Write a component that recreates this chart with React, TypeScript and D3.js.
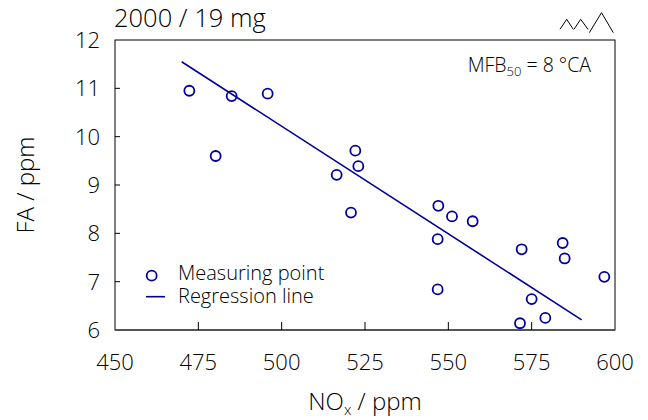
import React from "react";
import * as d3 from "d3";

const noxValues = [472.3, 480.2, 485.0, 495.8, 516.5, 520.8, 522.1, 523.0, 547.0, 551.1, 557.3, 546.8, 546.8, 572.0, 575.0, 571.5, 579.1, 584.3, 584.9, 596.8];
const faValues = [10.95, 9.6, 10.84, 10.89, 9.21, 8.43, 9.71, 9.39, 8.57, 8.35, 8.25, 7.88, 6.84, 7.67, 6.64, 6.14, 6.25, 7.8, 7.48, 7.1];
const regressionX = [470, 590];
const regressionY = [11.55, 6.21];
const xTicks = [450, 475, 500, 525, 550, 575, 600];
const yTicks = [6, 7, 8, 9, 10, 11, 12];
const legendLabels = ["Measuring point", "Regression line"];

const W = 648, H = 420;
const L = 115, R = 615, T = 40, B = 330;
const BLUE = "#00009C";
const FONT = "'Open Sans', 'DejaVu Sans', sans-serif";
const FW = 350;

export default function App() {
  const x = d3.scaleLinear().domain([450, 600]).range([L, R]);
  const y = d3.scaleLinear().domain([6, 12]).range([B, T]);
  const line = d3.line<number>().x((d, i) => x(regressionX[i])).y((d, i) => y(regressionY[i]));
  const icon = d3.line<[number, number]>();
  return (
    <svg width={W} height={H} style={{ position: "absolute", left: 0, top: 0, background: "#fff" }} fontFamily={FONT}>
      <rect x={0} y={0} width={W} height={H} fill="#fff" />
      {/* frame */}
      <rect x={L} y={T} width={R - L} height={B - T} fill="none" stroke="#000" strokeWidth={1} />
      <line x1={L} x2={R} y1={B} y2={B} stroke="#555" strokeWidth={2} />
      {xTicks.slice(1, -1).map((t) => (
        <line key={t} x1={x(t)} x2={x(t)} y1={B} y2={B - 8} stroke="#000" strokeWidth={1} />
      ))}
      {yTicks.slice(1, -1).map((t) => (
        <line key={t} x1={L} x2={L + 5} y1={y(t)} y2={y(t)} stroke="#000" strokeWidth={1} />
      ))}
      {xTicks.map((t) => (
        <text key={t} x={x(t)} y={370} textAnchor="middle" fontSize={22} fontWeight={FW} fill="#000">{t}</text>
      ))}
      {yTicks.map((t) => (
        <text key={t} x={100} y={y(t) + 8} textAnchor="end" fontSize={22} fontWeight={FW} fill="#000">{t}</text>
      ))}
      {/* axis titles */}
      <text x={365} y={410} textAnchor="middle" fontSize={24} fontWeight={FW} fill="#000">
        NO<tspan fontSize={15} dy={5}>x</tspan><tspan dy={-5}> / ppm</tspan>
      </text>
      <text transform={`translate(34,${(T + B) / 2}) rotate(-90)`} textAnchor="middle" fontSize={24} fontWeight={FW} fill="#000">FA / ppm</text>
      {/* title */}
      <text x={114} y={27} fontSize={25.5} fontWeight={FW} fill="#000">2000 / 19 mg</text>
      {/* icon */}
      <path d={icon([[560, 29.3], [566.7, 19.3], [573.3, 29.3]]) + icon([[574, 29.3], [580.7, 19.3], [588, 29.3]]) + icon([[589.3, 32.7], [601.5, 12.7], [613.3, 32.7]])} fill="none" stroke="#000" strokeWidth={1} />
      {/* annotation */}
      <text x={591} y={72} textAnchor="end" fontSize={19.5} fontWeight={FW} fill="#000">
        MFB<tspan fontSize={13} dy={4}>50</tspan><tspan dy={-4}> = 8 °CA</tspan>
      </text>
      {/* regression */}
      <path d={line(regressionX) || ""} fill="none" stroke={BLUE} strokeWidth={1.6} />
      {/* points */}
      {noxValues.map((v, i) => (
        <circle key={i} cx={x(v)} cy={y(faValues[i])} r={5} fill="none" stroke={BLUE} strokeWidth={1.8} />
      ))}
      {/* legend */}
      <circle cx={151.7} cy={275.7} r={5} fill="none" stroke={BLUE} strokeWidth={1.8} />
      <text x={178} y={280} fontSize={20} fontWeight={FW} fill="#000">{legendLabels[0]}</text>
      <line x1={146} x2={165} y1={296.7} y2={296.7} stroke={BLUE} strokeWidth={1.6} />
      <text x={178} y={303} fontSize={20} fontWeight={FW} fill="#000">{legendLabels[1]}</text>
    </svg>
  );
}
